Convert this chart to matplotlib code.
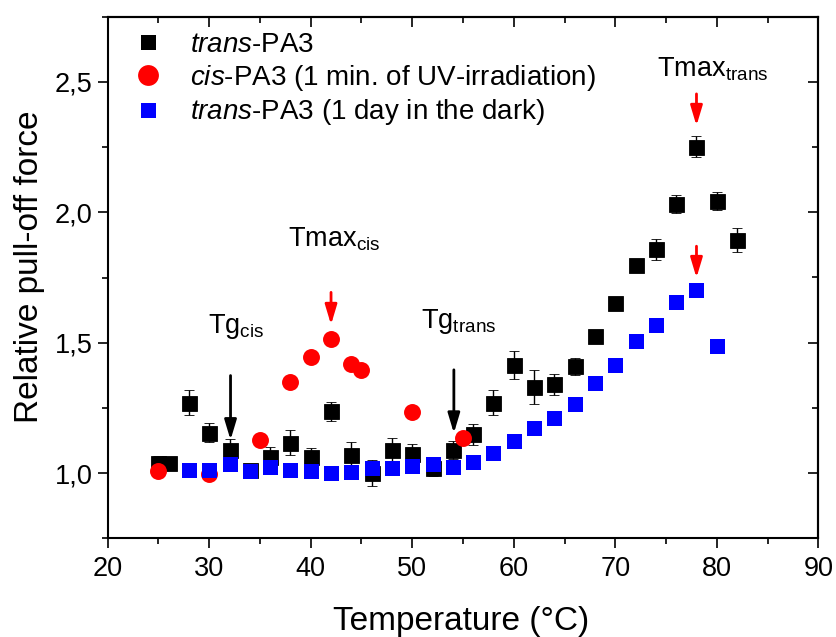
import matplotlib
matplotlib.use("Agg")
import matplotlib.pyplot as plt
from matplotlib.lines import Line2D
from matplotlib.ticker import MultipleLocator, FuncFormatter

plt.rcParams['font.family'] = ['Liberation Sans', 'DejaVu Sans']
plt.rcParams['mathtext.fontset'] = 'custom'
plt.rcParams['mathtext.rm'] = 'Liberation Sans'
plt.rcParams['mathtext.it'] = 'Liberation Sans:italic'
plt.rcParams['mathtext.bf'] = 'Liberation Sans:bold'

# ---- data ----
trans_x = [25, 26, 28, 30, 32, 34, 36, 38, 40, 42, 44, 46, 48, 50, 52, 54, 56, 58, 60,
           62, 64, 66, 68, 70, 72, 74, 76, 78, 80, 82]
trans_y = [1.04, 1.04, 1.27, 1.155, 1.09, 1.01, 1.063, 1.117, 1.063, 1.237, 1.07, 1.0,
           1.088, 1.072, 1.02, 1.09, 1.149, 1.27, 1.415, 1.33, 1.341, 1.409, 1.527,
           1.653, 1.797, 1.858, 2.033, 2.251, 2.043, 1.893]
trans_err = [0.025, 0.01, 0.049, 0.037, 0.04, 0.01, 0.038, 0.047, 0.035, 0.036, 0.048,
             0.05, 0.045, 0.04, 0.03, 0.035, 0.04, 0.048, 0.055, 0.065, 0.04, 0.034,
             0.015, 0.015, 0.02, 0.04, 0.035, 0.04, 0.036, 0.046]

cis_x = [25, 30, 35, 38, 40, 42, 44, 45, 50, 55]
cis_y = [1.009, 0.996, 1.127, 1.349, 1.447, 1.514, 1.419, 1.394, 1.236, 1.133]

dark_x = [28, 30, 32, 34, 36, 38, 40, 42, 44, 46, 48, 50, 52, 54, 56, 58, 60, 62, 64,
          66, 68, 70, 72, 74, 76, 78, 80]
dark_y = [1.012, 1.012, 1.033, 1.009, 1.024, 1.012, 1.008, 1.001, 1.005, 1.018, 1.02,
          1.028, 1.034, 1.024, 1.043, 1.078, 1.123, 1.172, 1.21, 1.264, 1.347, 1.413,
          1.508, 1.567, 1.657, 1.701, 1.488]

labels = [r"$\mathit{trans}$-PA3",
          r"$\mathit{cis}$-PA3 (1 min. of UV-irradiation)",
          r"$\mathit{trans}$-PA3 (1 day in the dark)"]

# ---- figure ----
W, H = 837, 637
fig = plt.figure(figsize=(W / 100, H / 100), dpi=100)
L, R, T, B = 107.7, 818.3, 16.7, 538.3
ax = fig.add_axes([L / W, (H - B) / H, (R - L) / W, (B - T) / H])

ax.errorbar(trans_x, trans_y, yerr=trans_err, fmt='s', color='black', ms=10.8,
            mec='black', mew=0.6, ecolor='black', elinewidth=1.0, capsize=3.6,
            capthick=1.0, zorder=3)
ax.plot(cis_x, cis_y, 'o', color='#FF0000', ms=12.2, mew=0, zorder=4)
ax.plot(dark_x, dark_y, 's', color='#0000FF', ms=10.8, mew=0, zorder=5)

ax.set_xlim(20, 90)
ax.set_ylim(0.75, 2.75)
ax.xaxis.set_major_locator(MultipleLocator(10))
ax.xaxis.set_minor_locator(MultipleLocator(5))
ax.yaxis.set_major_locator(MultipleLocator(0.5))
ax.yaxis.set_minor_locator(MultipleLocator(0.25))
ax.yaxis.set_major_formatter(FuncFormatter(lambda v, p: f"{v:.1f}".replace('.', ',')))

for s in ax.spines.values():
    s.set_linewidth(1.5)
ax.tick_params(which='major', direction='out', length=7, width=1.2, labelsize=19.5, pad=4)
ax.tick_params(which='minor', direction='out', length=4, width=1.2)
ax.tick_params(axis='x', which='major', pad=6)

# top / right inward ticks
topx = ax.secondary_xaxis('top')
topx.xaxis.set_major_locator(MultipleLocator(10))
topx.xaxis.set_minor_locator(MultipleLocator(5))
topx.tick_params(which='major', direction='in', length=7, width=1.2, labeltop=False)
topx.tick_params(which='minor', direction='in', length=4, width=1.2)
rty = ax.secondary_yaxis('right')
rty.yaxis.set_major_locator(MultipleLocator(0.5))
rty.yaxis.set_minor_locator(MultipleLocator(0.25))
rty.tick_params(which='major', direction='in', length=7, width=1.2, labelright=False)
rty.tick_params(which='minor', direction='in', length=4, width=1.2)
for sa in (topx, rty):
    for s in sa.spines.values():
        s.set_linewidth(1.5)

ax.set_xlabel("Temperature (°C)", fontsize=24)
ax.set_ylabel("Relative pull-off force", fontsize=24)
ax.xaxis.set_label_coords(0.498, -0.13)
ax.yaxis.set_label_coords(-0.088, 0.52)

handles = [
    Line2D([], [], ls='none', marker='s', color='black', ms=10.8, mew=0),
    Line2D([], [], ls='none', marker='o', color='#FF0000', ms=15, mew=0),
    Line2D([], [], ls='none', marker='s', color='#0000FF', ms=10.8, mew=0),
]
leg = ax.legend(handles, labels, loc='upper left', bbox_to_anchor=(0.037, 0.971),
                frameon=False, fontsize=20, borderpad=0, handlelength=1.0,
                handletextpad=1.0, labelspacing=0.17, borderaxespad=0)

# annotations
tfs = 19.5
ax.text(74.1, 2.519, r"Tmax$_{\mathrm{trans}}$", fontsize=tfs, ha='left', va='baseline')
ax.text(37.76, 1.870, r"Tmax$_{\mathrm{cis}}$", fontsize=tfs, ha='left', va='baseline')
ax.text(29.88, 1.538, r"Tg$_{\mathrm{cis}}$", fontsize=tfs, ha='left', va='baseline')
ax.text(50.84, 1.558, r"Tg$_{\mathrm{trans}}$", fontsize=tfs, ha='left', va='baseline')

def arrow(x, y0, y1, color):
    ax.annotate("", xy=(x, y1), xytext=(x, y0),
                arrowprops=dict(arrowstyle='-|>,head_length=0.6,head_width=0.18',
                                mutation_scale=20, color=color, lw=2,
                                shrinkA=0, shrinkB=0), zorder=6)

arrow(78, 2.454, 2.332, '#FF0000')
arrow(78, 1.870, 1.749, '#FF0000')
arrow(42, 1.693, 1.569, '#FF0000')
arrow(32.1, 1.374, 1.127, 'black')
arrow(54.1, 1.396, 1.153, 'black')

fig.savefig("out.png", dpi=100)
